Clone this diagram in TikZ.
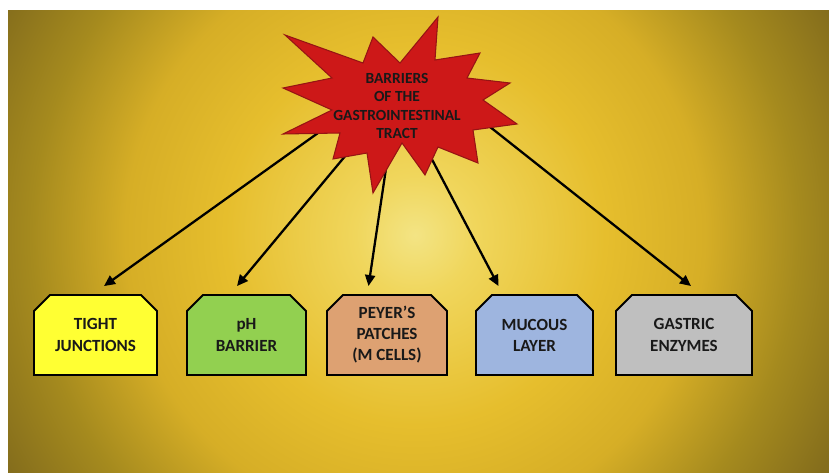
\documentclass[tikz,border=0pt]{standalone}
\usepackage{fontspec}
\setmainfont{Carlito}
\usetikzlibrary{shapes.misc, arrows.meta, calc}
\definecolor{glowA}{RGB}{243,228,132}
\definecolor{glowB}{RGB}{240,214,92}
\definecolor{glowC}{RGB}{230,190,45}
\definecolor{glowD}{RGB}{214,174,38}
\definecolor{glowE}{RGB}{165,138,30}
\definecolor{glowF}{RGB}{132,109,28}
\definecolor{starred}{RGB}{205,24,24}
\definecolor{stardark}{RGB}{150,20,20}
\definecolor{textdark}{RGB}{25,25,25}
\definecolor{tjyellow}{RGB}{255,255,51}
\definecolor{phgreen}{RGB}{146,208,80}
\definecolor{pptan}{RGB}{221,161,114}
\definecolor{mublue}{RGB}{158,181,223}
\definecolor{gzgrey}{RGB}{191,191,191}
\pgfdeclareradialshading{bgglow}{\pgfpoint{0bp}{0bp}}{color(0bp)=(glowA); color(3.1bp)=(glowB); color(9.9bp)=(glowC); color(15.1bp)=(glowD); color(20bp)=(glowE); color(24.5bp)=(glowF); color(50bp)=(glowF)}

\begin{document}
\begin{tikzpicture}[x=0.02cm, y=-0.02cm,
  gbox/.style={chamfered rectangle, chamfered rectangle corners={north west, north east}, chamfered rectangle xsep=0.2cm, chamfered rectangle ysep=0.12cm, draw=black, line width=1.1pt, minimum height=1.6cm, inner xsep=2pt, inner ysep=0pt, align=center, text=textdark, font=\fontsize{9.7}{12}\selectfont\bfseries},
  arr/.style={-{Triangle[length=2.2mm, width=2mm]}, line width=1.3pt, black}
]
  \useasboundingbox[fill=white] (0,0) rectangle (829,473);
  \begin{scope}
    \clip (8,11) rectangle (829,473);
    \shade[shading=bgglow] (415,235) circle (480);
  \end{scope}

  \node[gbox, fill=tjyellow, minimum width=2.46cm] (tj) at (95.5,335) {TIGHT\\JUNCTIONS};
  \node[gbox, fill=phgreen, minimum width=2.38cm] (ph) at (246.5,335) {pH\\BARRIER};
  \node[gbox, fill=pptan, minimum width=2.40cm] (pp) at (387,335) {PEYER'S\\PATCHES\\(M CELLS)};
  \node[gbox, fill=mublue, minimum width=2.34cm] (mu) at (534.5,335) {MUCOUS\\LAYER};
  \node[gbox, fill=gzgrey, minimum width=2.72cm] (gz) at (684,335) {GASTRIC\\ENZYMES};

  \coordinate (s1) at (325,128);
  \coordinate (s2) at (356,143);
  \coordinate (s3) at (388,155);
  \coordinate (s4) at (426,148);
  \coordinate (s5) at (480,119);
  \draw[arr] (s1) -- ($(tj.north)+(8.5,-8)$);
  \draw[arr] (s2) -- ($(ph.north)+(-9.5,-8)$);
  \draw[arr] (s3) -- ($(pp.north)+(-18.5,-8)$);
  \draw[arr] (s4) -- ($(mu.north)+(-36,-8)$);
  \draw[arr] (s5) -- ($(gz.north)+(7,-8)$);

  \draw[fill=starred, draw=stardark, line width=0.6pt] (285,35) -- (363,63) -- (373,37) -- (400,63) -- (438,17) -- (435,60) -- (480,53) -- (467,78) -- (510,83) -- (483,100) -- (517,124) -- (473,130) -- (478,163) -- (438,147) -- (425,175) -- (402,143) -- (373,193) -- (367,153) -- (333,159) -- (340,133) -- (283,134) -- (332,110) -- (283,88) -- (332,78) -- cycle;
  \node[align=center, text=textdark, font=\fontsize{8.8}{10.4}\selectfont\bfseries] (title) at (397,106) {BARRIERS\\OF THE\\GASTROINTESTINAL\\TRACT};
\end{tikzpicture}
\end{document}
